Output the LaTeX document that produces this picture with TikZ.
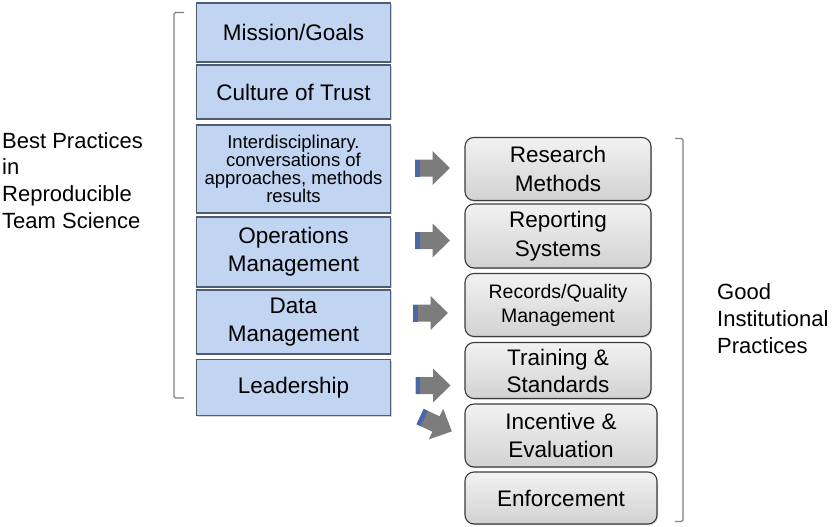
\documentclass[tikz,border=0pt]{standalone}
\usepackage{fontspec}
\setmainfont{Liberation Sans}
\usetikzlibrary{shadows}
\definecolor{lbfill}{RGB}{193,213,243}
\definecolor{lbdraw}{RGB}{80,92,112}
\definecolor{rbtop}{RGB}{242,242,242}
\definecolor{rbbot}{RGB}{210,210,210}
\definecolor{rbdraw}{RGB}{60,60,60}
\definecolor{arrgray}{RGB}{124,124,124}
\definecolor{arrblue}{RGB}{74,104,168}
\definecolor{brk}{RGB}{128,128,128}
\tikzset{
  leftbox/.style={draw=lbdraw, line width=1.3pt, fill=lbfill, inner sep=0pt,
    minimum width=194pt, align=center, font=\fontsize{22.5}{28}\selectfont,
    drop shadow={opacity=0.35, shadow xshift=1pt, shadow yshift=-1.2pt}},
  rightbox/.style={draw=rbdraw, line width=1.1pt, rounded corners=9pt,
    top color=rbtop, bottom color=rbbot, inner sep=0pt, align=center,
    font=\fontsize{22.5}{28.5}\selectfont,
    drop shadow={opacity=0.35, shadow xshift=1pt, shadow yshift=-1.2pt}},
  lbl/.style={align=left, anchor=north west, inner sep=0pt,
    font=\fontsize{22}{26.7}\selectfont},
  brace/.style={draw=brk, line width=1.2pt, rounded corners=1.5pt},
  blockarr/.pic={
    \fill[arrgray] (-17.5,-8.5) -- (0,-8.5) -- (0,-17) -- (17.5,0) -- (0,17) -- (0,8.5) -- (-17.5,8.5) -- cycle;
    \fill[arrblue] (-17.5,-8.5) rectangle (-13,8.5);
  }
}
\begin{document}
\begin{tikzpicture}[x=1pt,y=-1pt]
\useasboundingbox (0,0) rectangle (833,527);
% left column
\node[leftbox, minimum height=59pt] (m1) at (293.5,32.5) {Mission/Goals};
\node[leftbox, minimum height=54pt] (m2) at (293.5,92) {Culture of Trust};
\node[leftbox, minimum height=88pt, font=\fontsize{18.5}{18}\selectfont] (m3) at (293.5,169) {Interdisciplinary.\\conversations of\\approaches, methods\\results};
\node[leftbox, minimum height=70pt] (m4) at (293.5,252) {Operations\\Management};
\node[leftbox, minimum height=64pt] (m5) at (293.5,322) {Data\\Management};
\node[leftbox, minimum height=56pt] (m6) at (293.5,387.5) {Leadership};
% right column
\node[rightbox, minimum width=186pt, minimum height=63pt] (r1) at (558,169) {Research\\Methods};
\node[rightbox, minimum width=186pt, minimum height=64pt] (r2) at (558,236) {Reporting\\Systems};
\node[rightbox, minimum width=186pt, minimum height=63pt, font=\fontsize{19.5}{24}\selectfont] (r3) at (558,305) {Records/Quality\\Management};
\node[rightbox, minimum width=186pt, minimum height=56pt, font=\fontsize{22.5}{27}\selectfont] (r4) at (558,370.5) {Training \&\\Standards};
\node[rightbox, minimum width=192pt, minimum height=63pt] (r5) at (561,435.5) {Incentive \&\\Evaluation};
\node[rightbox, minimum width=192pt, minimum height=52pt] (r6) at (561,498) {Enforcement};
% arrows
\pic at (432.5,168) {blockarr};
\pic at (432.5,240.5) {blockarr};
\pic at (430.5,313) {blockarr};
\pic at (433,385.5) {blockarr};
\pic[rotate=-25] at (436,424) {blockarr};
% brackets
\coordinate (lbt) at (184,12.5);
\coordinate (lbb) at (184,398);
\draw[brace] (lbt) -- (174,12.5) -- (174,398) -- (lbb);
\coordinate (rbt) at (675,138.5);
\coordinate (rbb) at (675,521.5);
\draw[brace] (rbt) -- (683,138.5) -- (683,521.5) -- (rbb);
% labels
\node[lbl] (bp) at (2,132) {Best Practices\\in\\Reproducible\\Team Science};
\node[lbl] (gi) at (717,283.5) {Good\\Institutional\\Practices};
\end{tikzpicture}
\end{document}
